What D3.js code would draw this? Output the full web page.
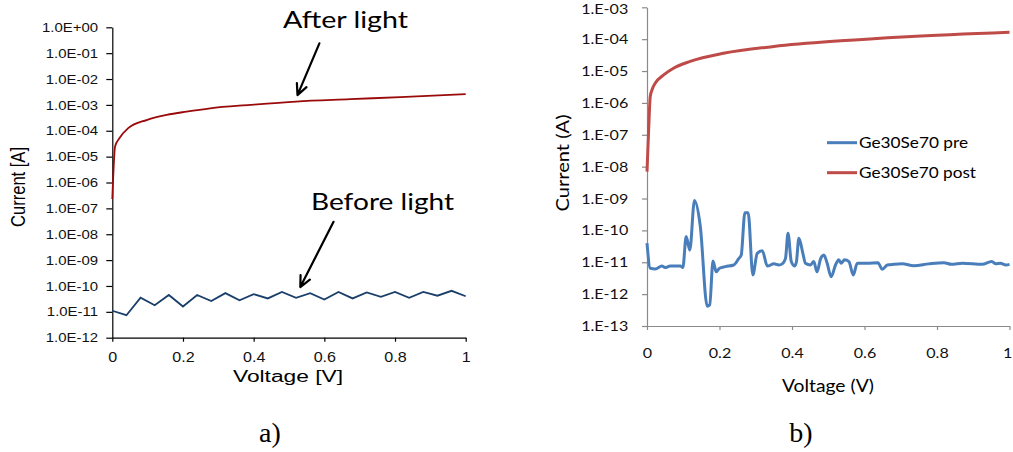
<!DOCTYPE html>
<html>
<head>
<meta charset="utf-8">
<script src="https://cdn.jsdelivr.net/npm/d3@7"></script>
<style>
  body { margin: 0; background: #fff; }
  svg { display: block; }
</style>
</head>
<body>
<div id="chart"></div>
<script>
// a) before / after light, straight segments
const voltBefore = [0, 0.04, 0.08, 0.12, 0.16, 0.2, 0.24, 0.28, 0.32, 0.36, 0.4, 0.44, 0.48,
                    0.52, 0.56, 0.6, 0.64, 0.68, 0.72, 0.76, 0.8, 0.84, 0.88, 0.92, 0.96, 1];
const currBefore = [1.1e-11, 7.4e-12, 3.5e-11, 1.8e-11, 4.5e-11, 1.6e-11, 4.5e-11, 2.6e-11, 5.3e-11,
                    2.8e-11, 4.8e-11, 3.3e-11, 5.9e-11, 3.5e-11, 5.3e-11, 3.0e-11, 5.9e-11, 3.3e-11,
                    5.6e-11, 3.8e-11, 5.9e-11, 3.5e-11, 5.9e-11, 4.2e-11, 6.5e-11, 4.0e-11];
const voltAfter = [0, 0.008, 0.02, 0.045, 0.097, 0.154, 0.21, 0.277, 0.39, 0.52, 0.673, 0.815, 1];
const currAfter = [2.3e-7, 2.5e-5, 5.1e-5, 1.26e-4, 2.6e-4, 4.1e-4, 5.5e-4, 7.4e-4, 1.0e-3,
                   1.35e-3, 1.66e-3, 2.0e-3, 2.6e-3];
const ticksA = [1, 1e-1, 1e-2, 1e-3, 1e-4, 1e-5, 1e-6, 1e-7, 1e-8, 1e-9, 1e-10, 1e-11, 1e-12];

// b) Ge30Se70 pre / post
const voltPre = [0, 0.009, 0.023, 0.041, 0.05, 0.064, 0.092, 0.099, 0.108, 0.118, 0.131, 0.147,
                 0.166, 0.173, 0.182, 0.191, 0.2, 0.216, 0.239, 0.253, 0.26, 0.27, 0.279, 0.292,
                 0.304, 0.318, 0.332, 0.35, 0.364, 0.373, 0.382, 0.389, 0.398, 0.407, 0.412,
                 0.419, 0.43, 0.437, 0.451, 0.46, 0.469, 0.479, 0.488, 0.497, 0.508, 0.52, 0.529,
                 0.536, 0.545, 0.557, 0.569, 0.58, 0.608, 0.637, 0.649, 0.663, 0.681, 0.704,
                 0.736, 0.777, 0.819, 0.84, 0.87, 0.925, 0.951, 0.962, 0.975, 0.99, 1];
const currPre = [4.0e-11, 6.5e-12, 6.2e-12, 7.6e-12, 6.8e-12, 7.6e-12, 7.6e-12, 6.9e-12, 6.4e-11,
                 2.4e-11, 8.7e-10, 1.35e-10, 4.2e-13, 4.6e-13, 1.1e-11, 5.0e-12, 6.5e-12, 7.3e-12,
                 8.2e-12, 1.3e-11, 1.7e-11, 3.6e-10, 3.6e-10, 4.0e-12, 1.9e-11, 2.3e-11, 7.6e-12,
                 8.9e-12, 8.2e-12, 8.9e-12, 1.3e-11, 8.1e-11, 1.05e-11, 7.6e-12, 1.0e-11, 5.7e-11,
                 1.9e-11, 9.3e-12, 8.2e-12, 1.05e-11, 5.0e-12, 1.3e-11, 1.7e-11, 9.3e-12, 3.5e-12,
                 8.2e-12, 1.2e-11, 9.3e-12, 1.2e-11, 1.05e-11, 4.0e-12, 9.3e-12, 9.3e-12, 9.7e-12,
                 6.0e-12, 8.2e-12, 8.6e-12, 8.9e-12, 7.8e-12, 8.9e-12, 9.7e-12, 8.6e-12, 9.3e-12,
                 8.6e-12, 1.05e-11, 8.9e-12, 9.3e-12, 8.2e-12, 8.6e-12];
const voltPost = [0, 0.004, 0.009, 0.015, 0.023, 0.046, 0.073, 0.119, 0.211, 0.35, 0.534, 0.717, 1];
const currPost = [7e-9, 1e-7, 1.6e-6, 2.8e-6, 4.2e-6, 7.6e-6, 1.23e-5, 2.0e-5, 3.6e-5, 5.9e-5,
                  8.9e-5, 1.2e-4, 1.66e-4];
const ticksB = [1e-3, 1e-4, 1e-5, 1e-6, 1e-7, 1e-8, 1e-9, 1e-10, 1e-11, 1e-12, 1e-13];
const voltTicks = [0, 0.2, 0.4, 0.6, 0.8, 1];

const width = 1013;
const height = 452;
const SX = 1.15; // source picture is stretched horizontally

const svg = d3.select("#chart")
    .append("svg")
    .attr("width", width)
    .attr("height", height);

function expFmt(d, mant) {
    const e = Math.round(Math.log10(d));
    const s = e < 0 ? "-" : "+";
    return mant + "E" + s + String(Math.abs(e)).padStart(2, "0");
}

// ---------- panel a ----------
const xA = d3.scaleLinear().domain([0, 1]).range([112.3, 465.7]);
const yA = d3.scaleLog().domain([1e-12, 1]).range([337.7, 27.3]);
const gA = svg.append("g");

const axA = gA.append("g")
    .attr("transform", `translate(${xA(0)},0)`)
    .call(d3.axisLeft(yA).tickValues(ticksA).tickFormat(d => expFmt(d, "1.0"))
        .tickSize(6).tickPadding(6.4).tickSizeOuter(0));
const axAx = gA.append("g")
    .attr("transform", `translate(0,${yA(1e-12)})`)
    .call(d3.axisBottom(xA).tickValues(voltTicks).tickFormat(d3.format("")).tickSize(4)
        .tickPadding(10).tickSizeOuter(0));
[axA, axAx].forEach(a => {
    a.selectAll("path, line").attr("stroke", "#000").attr("stroke-width", 1.2);
    a.selectAll("text").attr("fill", "#111")
        .style("font-family", "'Liberation Sans', Arial, sans-serif")
        .attr("transform", `scale(${SX},1)`);
});
axA.selectAll("text").style("font-size", "13px");
axAx.selectAll("text").style("font-size", "14px");

const lineA = d3.line().x(d => xA(d[0])).y(d => yA(d[1]));
gA.append("path")
    .datum(d3.zip(voltBefore, currBefore))
    .attr("d", lineA)
    .attr("fill", "none").attr("stroke", "#1b3f6b").attr("stroke-width", 1.8);
gA.append("path")
    .datum(d3.zip(voltAfter, currAfter))
    .attr("d", lineA.curve(d3.curveMonotoneX))
    .attr("fill", "none").attr("stroke", "#9a0a0a").attr("stroke-width", 1.8);

gA.append("text")
    .attr("transform", `translate(18,187) scale(${SX},1) rotate(-90)`)
    .attr("text-anchor", "middle").attr("dy", "0.35em")
    .attr("textLength", 80).attr("lengthAdjust", "spacingAndGlyphs")
    .style("font-family", "'Liberation Sans', Arial, sans-serif").style("font-size", "17px")
    .text("Current [A]");
gA.append("text")
    .attr("x", 288).attr("y", 382)
    .attr("text-anchor", "middle")
    .attr("textLength", 110).attr("lengthAdjust", "spacingAndGlyphs")
    .style("font-family", "'Liberation Sans', Arial, sans-serif").style("font-size", "16px")
    .text("Voltage [V]");

// annotations with arrows
function arrow(g, x1, y1, x2, y2) {
    const a = Math.atan2(y2 - y1, x2 - x1);
    const L = 12, w = 0.45;
    g.append("path")
        .attr("d", `M${x1},${y1}L${x2},${y2}` +
            `M${x2 - L * Math.cos(a - w)},${y2 - L * Math.sin(a - w)}L${x2},${y2}` +
            `L${x2 - L * Math.cos(a + w)},${y2 - L * Math.sin(a + w)}`)
        .attr("fill", "none").attr("stroke", "#000").attr("stroke-width", 2.2)
        .attr("stroke-linecap", "round").attr("stroke-linejoin", "round");
}
arrow(gA, xA(0.586), yA(10 ** -0.62), xA(0.524), yA(10 ** -2.62));
arrow(gA, xA(0.626), yA(10 ** -7.52), xA(0.532), yA(10 ** -10.04));
gA.append("text")
    .attr("x", 283).attr("y", 28)
    .attr("textLength", 125).attr("lengthAdjust", "spacingAndGlyphs")
    .style("font-family", "Lato, 'Open Sans', sans-serif").style("font-size", "23px")
    .text("After light");
gA.append("text")
    .attr("x", 311).attr("y", 210)
    .attr("textLength", 143).attr("lengthAdjust", "spacingAndGlyphs")
    .style("font-family", "Lato, 'Open Sans', sans-serif").style("font-size", "23px")
    .text("Before light");

// ---------- panel b ----------
const xB = d3.scaleLinear().domain([0, 1]).range([647, 1009.5]);
const yB = d3.scaleLog().domain([1e-13, 1e-3]).range([326, 7.3]);
const gB = svg.append("g");

const axB = gB.append("g")
    .attr("transform", `translate(${xB(0)},0)`)
    .call(d3.axisLeft(yB).tickValues(ticksB).tickFormat(d => expFmt(d, "1."))
        .tickSize(5).tickPadding(11.3).tickSizeOuter(0));
const axBx = gB.append("g")
    .attr("transform", `translate(0,${yB(1e-13)})`)
    .call(d3.axisBottom(xB).tickValues(voltTicks).tickFormat(d3.format("")).tickSize(4)
        .tickPadding(18).tickSizeOuter(0));
[axB, axBx].forEach(a => {
    a.selectAll("path, line").attr("stroke", "#8a8a8a").attr("stroke-width", 1.2);
    a.selectAll("text").attr("fill", "#111")
        .style("font-family", "Lato, 'Open Sans', sans-serif").style("font-size", "14px")
        .attr("transform", `scale(${SX},1)`);
});
// keep the edge labels inside the picture
axB.selectAll(".tick text").filter(d => d === 1e-3).attr("dy", "0.45em");
axBx.selectAll(".tick text").filter(d => d === 1).attr("dx", "-2");

const lineB = d3.line().x(d => xB(d[0])).y(d => yB(d[1])).curve(d3.curveMonotoneX);
gB.append("path")
    .datum(d3.zip(voltPre, currPre))
    .attr("d", lineB)
    .attr("fill", "none").attr("stroke", "#4a7ebb").attr("stroke-width", 3)
    .attr("stroke-linejoin", "round");
gB.append("path")
    .datum(d3.zip(voltPost, currPost))
    .attr("d", lineB)
    .attr("fill", "none").attr("stroke", "#be4b48").attr("stroke-width", 3)
    .attr("stroke-linejoin", "round");

gB.append("text")
    .attr("transform", `translate(563,163) rotate(-90)`)
    .attr("text-anchor", "middle").attr("dy", "0.35em")
    .attr("textLength", 97).attr("lengthAdjust", "spacingAndGlyphs")
    .style("font-family", "Lato, 'Open Sans', sans-serif").style("font-size", "17px")
    .text("Current (A)");
gB.append("text")
    .attr("x", 828).attr("y", 392)
    .attr("text-anchor", "middle")
    .attr("textLength", 92).attr("lengthAdjust", "spacingAndGlyphs")
    .style("font-family", "Lato, 'Open Sans', sans-serif").style("font-size", "17px")
    .text("Voltage (V)");

// legend
const legend = [
    {name: "Ge30Se70 pre", color: "#4a7ebb", w: 109},
    {name: "Ge30Se70 post", color: "#be4b48", w: 117}
];
const lg = gB.append("g").attr("transform", "translate(827,142.7)");
legend.forEach((d, i) => {
    lg.append("line")
        .attr("x1", 0).attr("x2", 30).attr("y1", i * 30).attr("y2", i * 30)
        .attr("stroke", d.color).attr("stroke-width", 3);
    lg.append("text")
        .attr("x", 32).attr("y", i * 30).attr("dy", "0.35em")
        .attr("textLength", d.w).attr("lengthAdjust", "spacingAndGlyphs")
        .style("font-family", "Lato, 'Open Sans', sans-serif").style("font-size", "15px")
        .text(d.name);
});

// panel captions
svg.selectAll("text.cap")
    .data([{t: "a)", x: 270}, {t: "b)", x: 801}])
    .enter()
    .append("text")
    .attr("class", "cap")
    .attr("x", d => d.x).attr("y", 442)
    .attr("text-anchor", "middle")
    .style("font-family", "'Liberation Serif', 'Times New Roman', serif").style("font-size", "28px")
    .text(d => d.t);
</script>
</body>
</html>
